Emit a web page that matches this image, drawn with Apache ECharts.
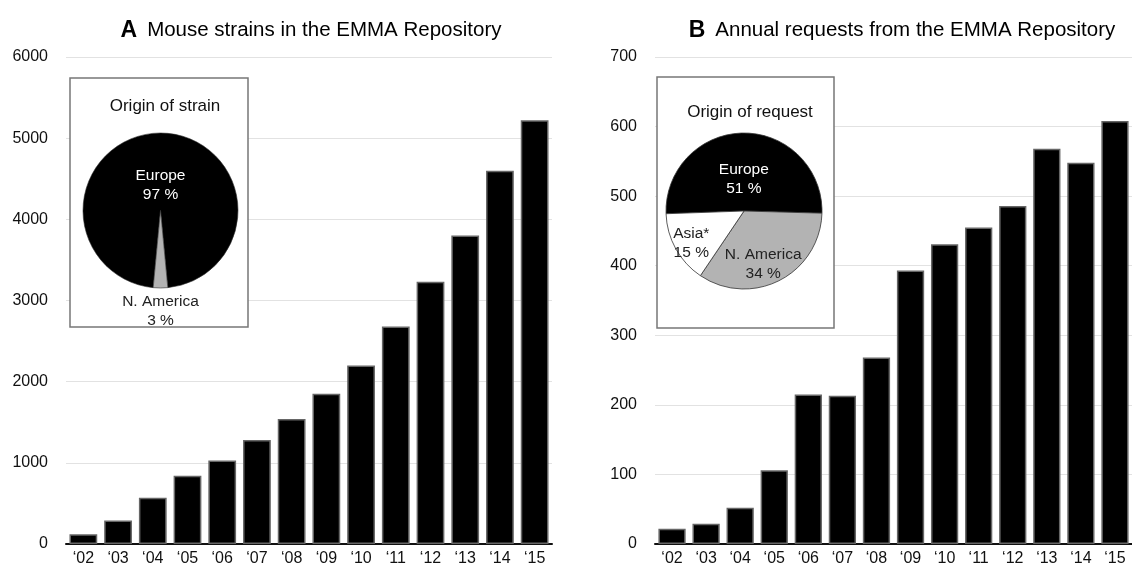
<!DOCTYPE html>
<html>
<head>
<meta charset="utf-8">
<script src="https://cdn.jsdelivr.net/npm/echarts@6/dist/echarts.min.js"></script>
<style>
html,body{margin:0;padding:0;background:#fff;}
#chart{width:1132px;height:567px;}
</style>
</head>
<body>
<div id="chart"></div>
<script>
// data
var years = ['\u201802','\u201803','\u201804','\u201805','\u201806','\u201807','\u201808','\u201809','\u201810','\u201811','\u201812','\u201813','\u201814','\u201815'];
var strains = [120, 290, 570, 840, 1030, 1280, 1540, 1850, 2200, 2680, 3230, 3800, 4600, 5220];
var requests = [22, 29, 52, 106, 215, 213, 268, 393, 431, 455, 486, 568, 548, 608];
var strainOriginNames = ['Europe', 'N. America'];
var strainOriginValues = [97, 3];
var requestOriginNames = ['Europe', 'N. America', 'Asia*'];
var requestOriginValues = [51, 34, 15];

var FONT = '"Liberation Sans", Arial, Helvetica, sans-serif';
var sliceColors = {'Europe':'#000', 'N. America':'#b3b3b3', 'Asia*':'#fff'};
var labelColors = {'Europe':'#fff', 'N. America':'#222', 'Asia*':'#222'};

function pieData(names, values){
	var out = [];
	for(var i=0;i<names.length;i++){
		out.push({
			name:names[i],
			value:values[i],
			itemStyle:{color:sliceColors[names[i]]},
			label:{color:labelColors[names[i]]}
		});
	}
	return out;
}

//类目轴
function catAxis(idx){
	return {
		type:'category',
		gridIndex:idx,
		data:years,
		axisTick:{show:false},
		axisLine:{lineStyle:{color:'#111', width:2}},
		axisLabel:{color:'#111', fontSize:16, fontFamily:FONT, margin:7}
	};
}
//数值轴
function valAxis(idx, max, step){
	return {
		type:'value', gridIndex:idx, min:0, max:max, interval:step,
		axisLine:{show:false}, axisTick:{show:false},
		axisLabel:{color:'#111', fontSize:16, fontFamily:FONT, margin:18,
			formatter:function(v){ return String(v); }},
		splitLine:{lineStyle:{color:'#e2e2e2', width:1}}
	};
}
function mainTitle(letter, text, x){
	return {
		text:'{a|' + letter + '}  {t|' + text + '}',
		left:x, top:14, textAlign:'center',
		textStyle:{rich:{
			a:{fontSize:23, fontWeight:'bold', color:'#000', fontFamily:FONT},
			t:{fontSize:20.5, fontWeight:'normal', color:'#000', fontFamily:FONT}
		}}
	};
}

var myChart = echarts.init(document.getElementById('chart'));
var option = {
	animation:false,
	backgroundColor:'#fff',
	textStyle:{fontFamily:FONT},
	title:[
		mainTitle('A', 'Mouse strains in the EMMA Repository', 306),
		mainTitle('B', 'Annual requests from the EMMA Repository', 897),
		{
			text:'Origin of strain',
			left:160, top:93, textAlign:'center',
			textStyle:{fontSize:17, fontWeight:'normal', color:'#111', fontFamily:FONT}
		},
		{
			text:'Origin of request',
			left:745, top:99, textAlign:'center',
			textStyle:{fontSize:17, fontWeight:'normal', color:'#111', fontFamily:FONT}
		}
	],
	grid:[
		{left:66, top:57, width:486, height:487},
		{left:655, top:57, width:486, height:487}
	],
	xAxis:[catAxis(0), catAxis(1)],
	yAxis:[valAxis(0, 6000, 1000), valAxis(1, 700, 100)],
	graphic:[
		{type:'rect', z:1, shape:{x:70, y:78, width:178, height:249},
			style:{fill:'#fff', stroke:'#777', lineWidth:1.5}},
		{type:'rect', z:1, shape:{x:657, y:77, width:177, height:251},
			style:{fill:'#fff', stroke:'#777', lineWidth:1.5}}
	],
	series:[
		{
			name:'strains', type:'bar', xAxisIndex:0, yAxisIndex:0,
			data:strains, barCategoryGap:'20%',
			itemStyle:{color:'#000', borderColor:'#666', borderWidth:1.5}
		},
		{
			name:'requests', type:'bar', xAxisIndex:1, yAxisIndex:1,
			data:requests, barCategoryGap:'20%',
			itemStyle:{color:'#000', borderColor:'#666', borderWidth:1.5}
		},
		{
			name:'Origin of strain', type:'pie', z:3,
			center:[160.5, 210.5], radius:77.5, startAngle:264.6,
			data:pieData(strainOriginNames, strainOriginValues),
			itemStyle:{borderColor:'#333', borderWidth:0.6},
			label:{position:'inside', formatter:'{b}\n{c} %', fontSize:15.5, lineHeight:19, fontFamily:FONT},
			labelLine:{show:false},
			labelLayout:function(p){
				return p.dataIndex === 0 ? {dy:16} : {dy:59};
			}
		},
		{
			name:'Origin of request', type:'pie', z:3,
			center:[744, 211], radius:78, startAngle:182,
			data:pieData(requestOriginNames, requestOriginValues),
			itemStyle:{borderColor:'#333', borderWidth:0.8},
			label:{position:'inside', formatter:'{b}\n{c} %', fontSize:15.5, lineHeight:19, fontFamily:FONT},
			labelLine:{show:false},
			labelLayout:function(p){
				if(p.dataIndex === 0) return {dy:10};
				if(p.dataIndex === 1) return {dy:16};
				return {dx:-16, dy:12};
			}
		}
	]
};
myChart.setOption(option);
</script>
</body>
</html>
